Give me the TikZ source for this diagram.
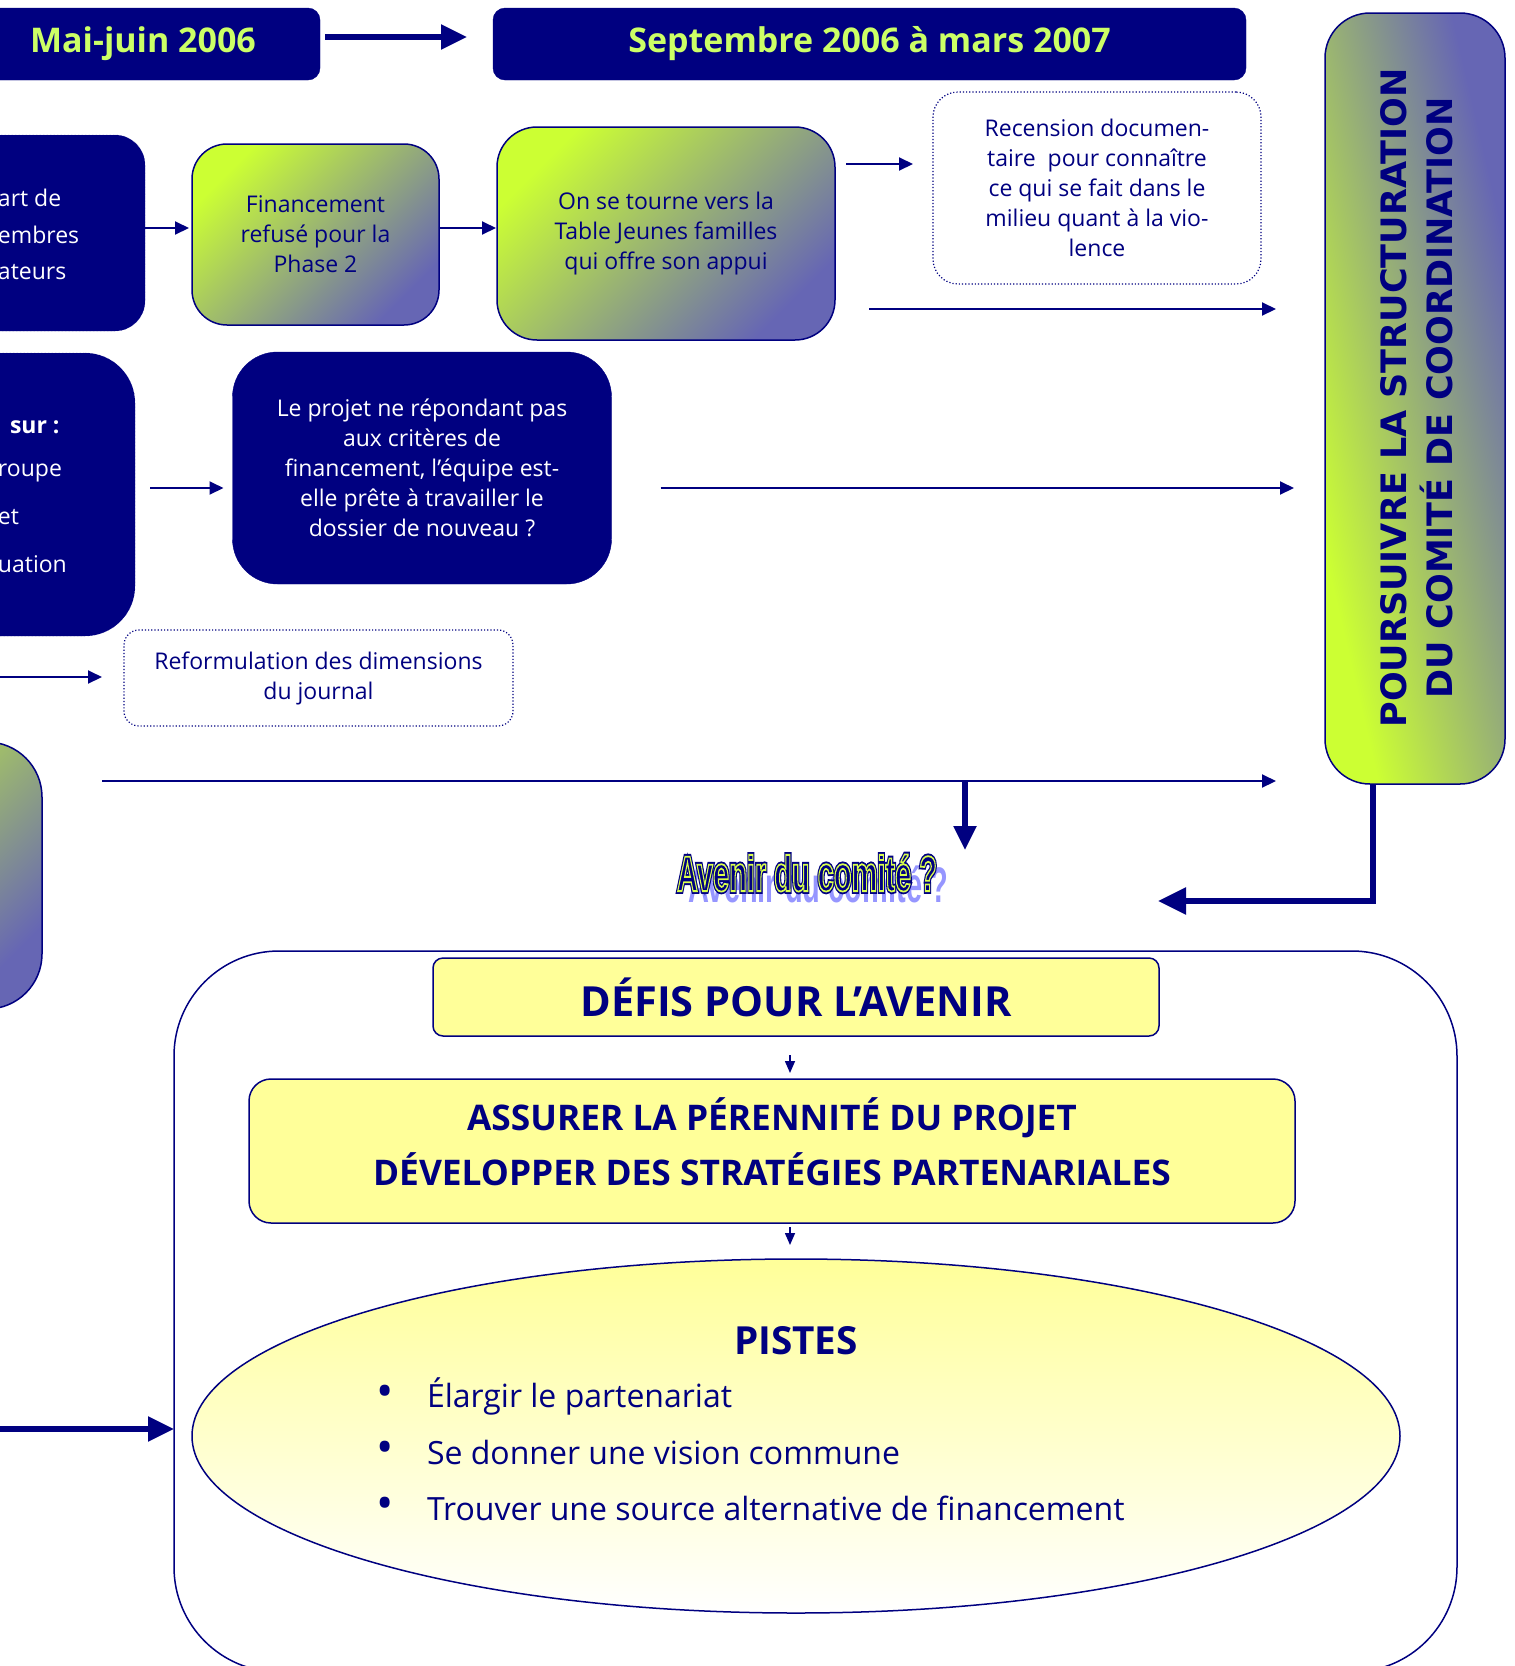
\documentclass[tikz,border=0pt]{standalone}
\usepackage{fontspec}
\setmainfont{Open Sans}
\newfontfamily\vfont{DejaVu Sans}
\newfontfamily\afont{Liberation Sans}
\usetikzlibrary{arrows.meta,shapes.geometric,calc}
\definecolor{navy}{RGB}{0,0,128}
\definecolor{lime}{RGB}{204,255,51}
\definecolor{ltxt}{RGB}{204,255,102}
\definecolor{purp}{RGB}{102,102,180}
\definecolor{pyel}{RGB}{255,255,153}
\definecolor{shad}{RGB}{150,150,255}
\newcommand\bodyf{\fontsize{23}{30}\selectfont}
\newcommand\headf{\fontsize{34}{40}\selectfont\bfseries}
\newcommand\titf{\fontsize{41.5}{48}\selectfont\bfseries}
\newcommand\asf{\fontsize{35.3}{55}\selectfont\bfseries}
\newcommand\bulf{\fontsize{32}{40}\selectfont}
\newcommand\avtxt{\scalebox{0.58}[1]{\afont\bfseries\fontsize{50}{50}\selectfont Avenir du comité ?}}
\begin{document}
\begin{tikzpicture}[x=1pt,y=-1pt,
  every node/.style={inner sep=0pt,outer sep=0pt},
  darkbox/.style={fill=navy,draw=navy,text=white,align=center,font=\bodyf},
  gbox/.style={draw=navy,line width=1.5pt,top color=lime,bottom color=purp,shading angle=45,text=navy,align=center,font=\bodyf},
  dotbox/.style={draw=navy,dotted,line width=1.2pt,fill=white,rounded corners=25pt,text=navy,align=center,font=\bodyf},
  ybox/.style={fill=pyel,draw=navy,line width=1.5pt,text=navy,align=center},
  arr/.style={draw=navy,line width=2pt,-{Triangle[length=14pt,width=13pt]}},
  bigarr/.style={draw=navy,line width=5.5pt,-{Triangle[length=26pt,width=24pt]}},
  frag/.style={anchor=west,text=white,font=\fontsize{23}{30}\selectfont}
]
\useasboundingbox (0,0) rectangle (1515,1666);
\clip (0,0) rectangle (1515,1666);

% header boxes
\node[darkbox,rounded corners=12pt,minimum width=354pt,minimum height=72pt,text=ltxt,font=\headf] (mai) at (143,44) {Mai-juin 2006};
\node[darkbox,rounded corners=12pt,minimum width=753pt,minimum height=72pt,text=ltxt,font=\headf] (sept) at (869.5,44) {Septembre 2006 à mars 2007};

% right vertical box (diagonal shading stretched to the box)
\begin{scope}
  \clip[rounded corners=45pt] (1325,13) rectangle (1505,784);
  \shade[transform canvas={shift={(1415,398.5)},yscale=4.2833},top color=purp,bottom color=lime,shading angle=-45] (-90,-90) rectangle (90,90);
\end{scope}
\node[draw=navy,line width=1.5pt,rounded corners=45pt,minimum width=180pt,minimum height=771pt] (right) at (1415,398.5) {};
\node[rotate=90,text=navy,align=center,font=\vfont\fontsize{35}{46}\selectfont\bfseries] (rtext) at (1417,398) {POURSUIVRE LA STRUCTURATION\\DU COMITÉ DE COORDINATION};

% left cut boxes
\node[darkbox,densely dotted,rounded corners=30pt,minimum width=345pt,minimum height=196pt] (b1) at (-27.5,233) {};
\node[frag] (b1a) at (-2,198) {art de};
\node[frag] (b1b) at (-2,235) {embres};
\node[frag] (b1c) at (-2,272) {ateurs};

\node[darkbox,densely dotted,rounded corners=50pt,minimum width=335pt,minimum height=283pt] (b2) at (-32.5,494.5) {};
\node[frag,font=\fontsize{23}{30}\selectfont\bfseries] (b2a) at (10,427) {sur :};
\node[frag] (b2b) at (-2,473) {roupe};
\node[frag] (b2c) at (-2,517) {et};
\node[frag] (b2d) at (-2,564) {uation};

\node[draw=navy,line width=1.5pt,rounded corners=55pt,top color=lime,bottom color=purp,shading angle=45,minimum width=292pt,minimum height=267pt] (b3) at (-104,875.5) {};

% middle boxes
\node[gbox,rounded corners=35pt,minimum width=247pt,minimum height=181pt] (fin) at (315.5,234.5) {Financement\\refusé pour la\\Phase 2};
\node[gbox,rounded corners=40pt,minimum width=338pt,minimum height=213pt] (tour) at (666,233.5) {On se tourne vers la\\Table Jeunes familles\\qui offre son appui};
\node[dotbox,minimum width=328pt,minimum height=192pt] (rec) at (1097,188) {Recension documen-\\taire~ pour connaître\\ce qui se fait dans le\\milieu quant à la vio-\\lence};
\node[darkbox,rounded corners=45pt,minimum width=379pt,minimum height=232pt] (proj) at (422,468) {Le projet ne répondant pas\\aux critères de\\financement, l’équipe est-\\elle prête à travailler le\\dossier de nouveau ?};
\node[dotbox,rounded corners=15pt,minimum width=389pt,minimum height=96pt] (ref) at (318.5,678) {Reformulation des dimensions\\du journal};

% Avenir du comite : shadow, then navy outlined text with a yellow inner line
\node[text=shad] (avs) at (818,884) {\avtxt};
\node[text=navy] (av) at (807,873) {\makebox[0pt][l]{\special{pdf:literal direct 2 Tr 5.5 w 0 0 0.5 RG}\avtxt}\special{pdf:literal direct 2 Tr 1.8 w 0.85 1 0.3 RG}\avtxt\special{pdf:literal direct 0 Tr}};

% lower part
\node[draw=navy,line width=1.5pt,rounded corners=105pt,minimum width=1283pt,minimum height=721pt] (outer) at (815.5,1311.5) {};
\node[ybox,rounded corners=10pt,minimum width=726pt,minimum height=78pt,font=\titf] (defis) at (796,997) {DÉFIS POUR L'AVENIR};
\node[ybox,rounded corners=22pt,minimum width=1046pt,minimum height=144pt] (assure) at (772,1151) {};
\node[text=navy,align=center,font=\asf] (asstext) at (772,1142) {ASSURER LA PÉRENNITÉ DU PROJET\\DÉVELOPPER DES STRATÉGIES PARTENARIALES};
\node[ellipse,draw=navy,line width=1.5pt,top color=pyel,bottom color=white,minimum width=1208pt,minimum height=354pt] (ell) at (796,1436) {};
\node[text=navy,font=\fontsize{38.7}{44}\selectfont\bfseries] (pistes) at (796,1341) {PISTES};
\foreach \yy/\tt [count=\i] in {1396/Élargir le partenariat,1452/Se donner une vision commune,1508/Trouver une source alternative de financement}{
  \node[text=navy,font=\fontsize{46}{46}\selectfont] (bul\i) at (385,\yy) {•};
  \node[text=navy,font=\bulf,anchor=west] (bt\i) at (427,\yy) {\tt};
}

% connectors
\coordinate (l1) at (0,677);
\coordinate (l2) at (102,781);
\coordinate (l3) at (0,1429);
\coordinate (avtip) at (965,850);
\draw[bigarr] ($(mai.east)+(5,-7)$) -- ($(sept.west)+(-26,-7)$);
\draw[arr] (b1.east |- 0,228) -- ([xshift=-3pt]fin.west |- 0,228);
\draw[arr] (fin.east |- 0,228) -- ([xshift=-1pt]tour.west |- 0,228);
\draw[arr] ([xshift=11pt]tour.east |- 0,164) -- ([xshift=-20pt]rec.west |- 0,164);
\draw[arr] ([xshift=34pt]tour.east |- 0,309) -- ([xshift=-49pt]right.west |- 0,309);
\draw[arr] ([xshift=15pt]b2.east |- 0,488) -- ([xshift=-9pt]proj.west |- 0,488);
\draw[arr] ([xshift=49pt]proj.east |- 0,488) -- ([xshift=-31pt]right.west |- 0,488);
\draw[arr] (l1) -- ([xshift=-22pt]ref.west |- l1);
\draw[arr] (l2) -- ([xshift=-49pt]right.west |- l2);
\draw[bigarr,-{Triangle[length=24pt,width=22pt]}] (avtip |- l2) -- (avtip);
\draw[bigarr,-{Triangle[length=28pt,width=26pt]}] ([xshift=-42pt]right.south) |- (1158,901);
\draw[arr,line width=1.5pt,-{Triangle[length=12pt,width=10pt]}] ($(defis.south)+(-6,19)$) -- ($(defis.south)+(-6,37)$);
\draw[arr,line width=1.5pt,-{Triangle[length=12pt,width=10pt]}] ($(defis.south)+(-6,191)$) -- ($(defis.south)+(-6,209)$);
\draw[bigarr] (l3) -- (outer.west |- l3);
\end{tikzpicture}
\end{document}
